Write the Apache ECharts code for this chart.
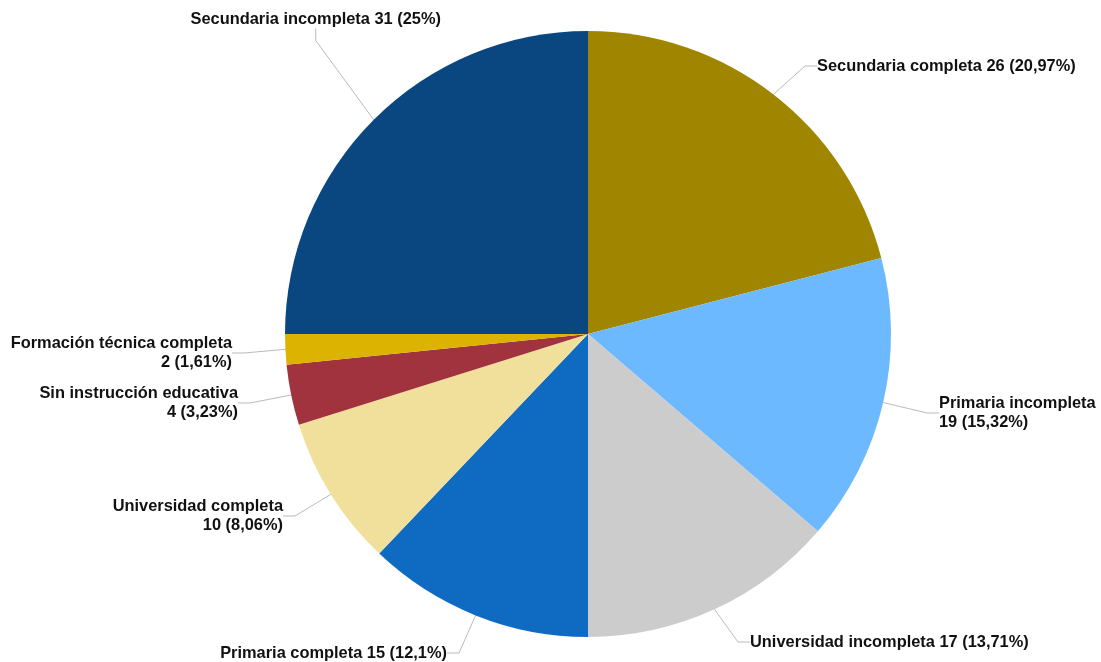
<!DOCTYPE html>
<html>
<head>
<meta charset="utf-8">
<script src="https://cdn.jsdelivr.net/npm/echarts@6/dist/echarts.min.js"></script>
<style>
html,body{margin:0;padding:0;background:#fff;}
#chart{width:1101px;height:662px;}
</style>
</head>
<body>
<div id="chart"></div>
<script>
// ---- data ----
const categories = [
  'Secundaria completa',
  'Primaria incompleta',
  'Universidad incompleta',
  'Primaria completa',
  'Universidad completa',
  'Sin instrucción educativa',
  'Formación técnica completa',
  'Secundaria incompleta'
];
const values = [26, 19, 17, 15, 10, 4, 2, 31];
const breakLabel = [false, true, false, false, true, true, true, false];
const colors = ['#a08600', '#6cb9ff', '#cccccc', '#0f6bc2', '#f0e09b', '#a0333d', '#dcb300', '#0a4780'];

// ---- label placement (layout config) ----
const labelPos = [
  {x: 817, y: 66, align: 'left'},
  {x: 939, y: 413, align: 'left'},
  {x: 750, y: 642, align: 'left'},
  {x: 447, y: 653, align: 'right'},
  {x: 283, y: 516, align: 'right'},
  {x: 238, y: 403, align: 'right'},
  {x: 232, y: 353, align: 'right'},
  {x: 441, y: 19, align: 'right'}
];

const total = values.reduce((a, b) => a + b, 0);
function pctText(v) {
  let p = Math.round(v / total * 10000) / 100;
  return String(p).replace('.', ',');
}

const chart = echarts.init(document.getElementById('chart'), null, {renderer: 'canvas'});
chart.setOption({
  animation: false,
  backgroundColor: '#ffffff',
  series: [{
    type: 'pie',
    center: [588, 334],
    radius: 303,
    startAngle: 90,
    clockwise: true,
    avoidLabelOverlap: false,
    itemStyle: {borderWidth: 0},
    emphasis: {disabled: true},
    data: categories.map((c, i) => ({
      name: c,
      value: values[i],
      itemStyle: {color: colors[i]}
    })),
    label: {
      show: true,
      position: 'outside',
      color: '#111111',
      fontFamily: 'Liberation Sans, Arial, sans-serif',
      fontWeight: 'bold',
      fontSize: 16.4,
      lineHeight: 19,
      formatter: p => p.name + (breakLabel[p.dataIndex] ? '\n' : ' ') + p.value + ' (' + pctText(p.value) + '%)'
    },
    labelLine: {
      show: true,
      length: 15,
      length2: 12,
      lineStyle: {color: '#bbbbbb', width: 1}
    },
    labelLayout: params => {
      const lp = labelPos[params.dataIndex];
      return {x: lp.x, y: lp.y, align: lp.align, verticalAlign: 'middle', hideOverlap: false};
    }
  }]
});
</script>
</body>
</html>
